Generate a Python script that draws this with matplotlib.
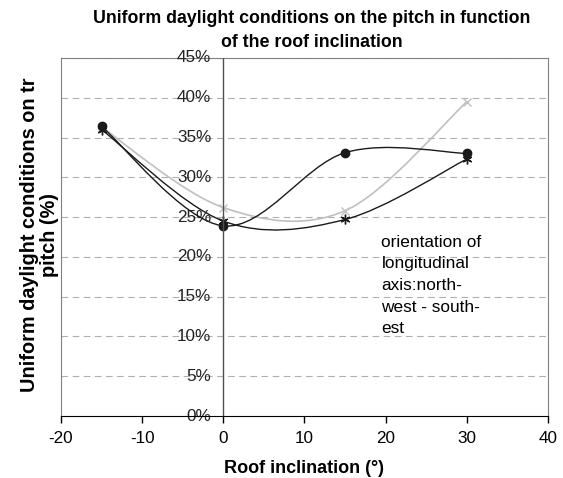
import numpy as np
import matplotlib.pyplot as plt
from matplotlib.path import Path
from matplotlib.patches import PathPatch

plt.rcParams['font.family'] = ['Liberation Sans', 'DejaVu Sans']
plt.rcParams['axes.unicode_minus'] = False

# data
inclination = [-15, 0, 15, 30]
series_dot = [36.4, 23.9, 33.1, 33.0]
series_star = [36.0, 24.5, 24.7, 32.3]
series_x = [36.3, 26.2, 25.8, 39.5]
y_ticks = [0, 5, 10, 15, 20, 25, 30, 35, 40, 45]
x_ticks = [-20, -10, 0, 10, 20, 30, 40]


def smooth_path(xs, ys):
    # Excel-like smoothed line: cubic bezier with catmull-rom tangents
    pts = np.column_stack([xs, ys]).astype(float)
    n = len(pts)
    verts = [pts[0]]
    codes = [Path.MOVETO]
    for i in range(n - 1):
        p0 = pts[i - 1] if i > 0 else pts[i]
        p1 = pts[i]
        p2 = pts[i + 1]
        p3 = pts[i + 2] if i + 2 < n else pts[i + 1]
        c1 = p1 + (p2 - p0) / 6.0
        c2 = p2 - (p3 - p1) / 6.0
        verts += [c1, c2, p2]
        codes += [Path.CURVE4] * 3
    return Path(verts, codes)


fig = plt.figure(figsize=(5.63, 4.78), dpi=100)
ax = fig.add_axes([0.1083, 0.1297, 0.8651, 0.749])

for yv in y_ticks[1:]:
    ax.axhline(yv, color='#b0b0b0', lw=0.8, ls=(0, (6, 4)), zorder=1)

ax.add_patch(PathPatch(smooth_path(inclination, series_x), fc='none',
                       ec='#c0c0c0', lw=1.2, zorder=3))
ax.add_patch(PathPatch(smooth_path(inclination, series_star), fc='none',
                       ec='#1a1a1a', lw=1.0, zorder=4))
ax.add_patch(PathPatch(smooth_path(inclination, series_dot), fc='none',
                       ec='#1a1a1a', lw=1.0, zorder=5))
ax.plot(inclination, series_x, ls='none', marker='x', ms=6, mew=1,
        color='#c0c0c0', zorder=3)
ax.plot(inclination, series_star, ls='none', marker=(6, 2, 0), ms=7, mew=1,
        color='#1a1a1a', zorder=4)
ax.plot(inclination, series_dot, ls='none', marker='o', ms=6,
        color='#1a1a1a', zorder=5)

ax.set_xlim(-20, 40)
ax.set_ylim(0, 45)
ax.set_xticks(x_ticks)
ax.set_yticks([])

for s in ['top', 'right']:
    ax.spines[s].set_color('#808080')
ax.spines['left'].set_color('#808080')
ax.spines['bottom'].set_color('black')
ax.spines['bottom'].set_zorder(7)
ax.axvline(0, color='#505050', lw=1.0, zorder=6)

ax.tick_params(axis='x', direction='out', length=5, width=1, labelsize=12.3,
               pad=6)
# y tick labels sit next to the vertical axis at x=0
for yv in y_ticks:
    ax.text(-1.5, yv, f'{yv}%', ha='right', va='center', fontsize=12.3,
            color='#222222', zorder=7)

ax.set_xlabel('Roof inclination (°)', fontsize=13, fontweight='bold',
              labelpad=10)
fig.text(0.070, 0.508, 'Uniform daylight conditions on tr\npitch (%)',
         rotation=90, ha='center', va='center', fontsize=14.3,
         fontweight='bold', linespacing=1.12)
fig.text(0.553, 0.936, 'Uniform daylight conditions on the pitch in function\n'
         'of the roof inclination', ha='center', va='center', fontsize=12.8,
         fontweight='bold', linespacing=1.5)

ax.text(0.658, 0.506, 'orientation of\nlongitudinal\naxis:north-\n'
        'west - south-\nest', transform=ax.transAxes, ha='left', va='top',
        fontsize=12.4, linespacing=1.55)

fig.savefig('out.png', dpi=100)
